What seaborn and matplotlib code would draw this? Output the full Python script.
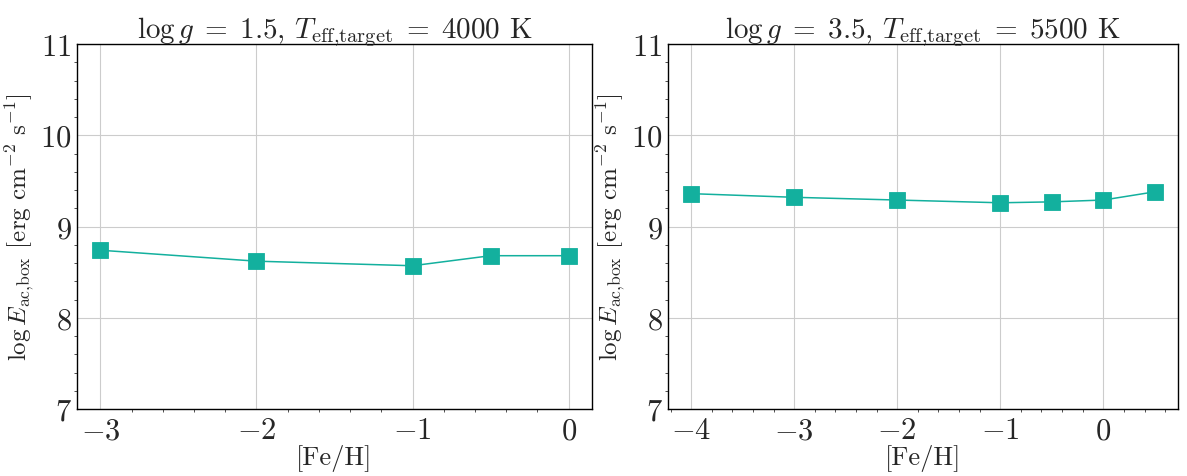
import matplotlib
matplotlib.use("Agg")
import matplotlib.pyplot as plt
from matplotlib.ticker import AutoMinorLocator, MultipleLocator
import seaborn as sns
import pandas as pd

# Metallicity grids and acoustic energy flux for the two model sets
feh_left = [-3.0, -2.0, -1.0, -0.5, 0.0]
logE_left = [8.74, 8.62, 8.57, 8.68, 8.68]

feh_right = [-4.0, -3.0, -2.0, -1.0, -0.5, 0.0, 0.5]
logE_right = [9.36, 9.32, 9.29, 9.26, 9.27, 9.29, 9.38]

titles = [
    r"$\log g \;=\; 1.5$, $T_{\rm eff{,}target} \;=\; 4000$ K",
    r"$\log g \;=\; 3.5$, $T_{\rm eff{,}target} \;=\; 5500$ K",
]
xlabel = r"[Fe/H]"
ylabel = r"$\log E_{\rm ac{,}box}$ [erg cm$^{-2}$ s$^{-1}$]"
color = "#13B09E"

sns.set_style("whitegrid")
plt.rcParams.update({
    "font.family": "serif",
    "font.serif": ["cmr10", "DejaVu Serif"],
    "mathtext.fontset": "cm",
    "axes.formatter.use_mathtext": True,
    "axes.edgecolor": "black",
    "axes.linewidth": 1.0,
    "grid.color": "#cccccc",
    "grid.linewidth": 0.8,
})

fig = plt.figure(figsize=(11.87, 4.77), dpi=100)
W, H = 1187, 477
ax1 = fig.add_axes([77 / W, (H - 410) / H, (592 - 77) / W, (410 - 45) / H])
ax2 = fig.add_axes([668 / W, (H - 410) / H, (1178 - 668) / W, (410 - 45) / H])

panels = [
    (ax1, feh_left, logE_left, titles[0]),
    (ax2, feh_right, logE_right, titles[1]),
]

for ax, x, y, title in panels:
    df = pd.DataFrame({"feh": x, "logE": y})
    sns.lineplot(data=df, x="feh", y="logE", ax=ax, color=color,
                 marker="s", markersize=11, markeredgecolor=color,
                 markeredgewidth=0.6, linewidth=1.1)
    ax.set_ylim(7, 11)
    ax.yaxis.set_major_locator(MultipleLocator(1))
    ax.xaxis.set_major_locator(MultipleLocator(1))
    ax.xaxis.set_minor_locator(AutoMinorLocator())
    ax.yaxis.set_minor_locator(AutoMinorLocator())
    ax.tick_params(which="major", length=3.5, width=0.8, color="#cccccc",
                   labelsize=22, pad=2)
    ax.tick_params(axis="y", which="major", pad=0.5)
    ax.tick_params(which="minor", length=2.5, width=0.6, color="#333333",
                   bottom=True, left=True)
    ax.grid(True, which="major")
    ax.grid(False, which="minor")
    for s in ax.spines.values():
        s.set_color("black")
        s.set_linewidth(1.0)
    ax.set_title(title, fontsize=21, pad=5)
    ax.set_xlabel(xlabel, fontsize=19, labelpad=0)
    ax.set_ylabel(ylabel, fontsize=18, labelpad=2)

fig.savefig("out.png", dpi=100)
